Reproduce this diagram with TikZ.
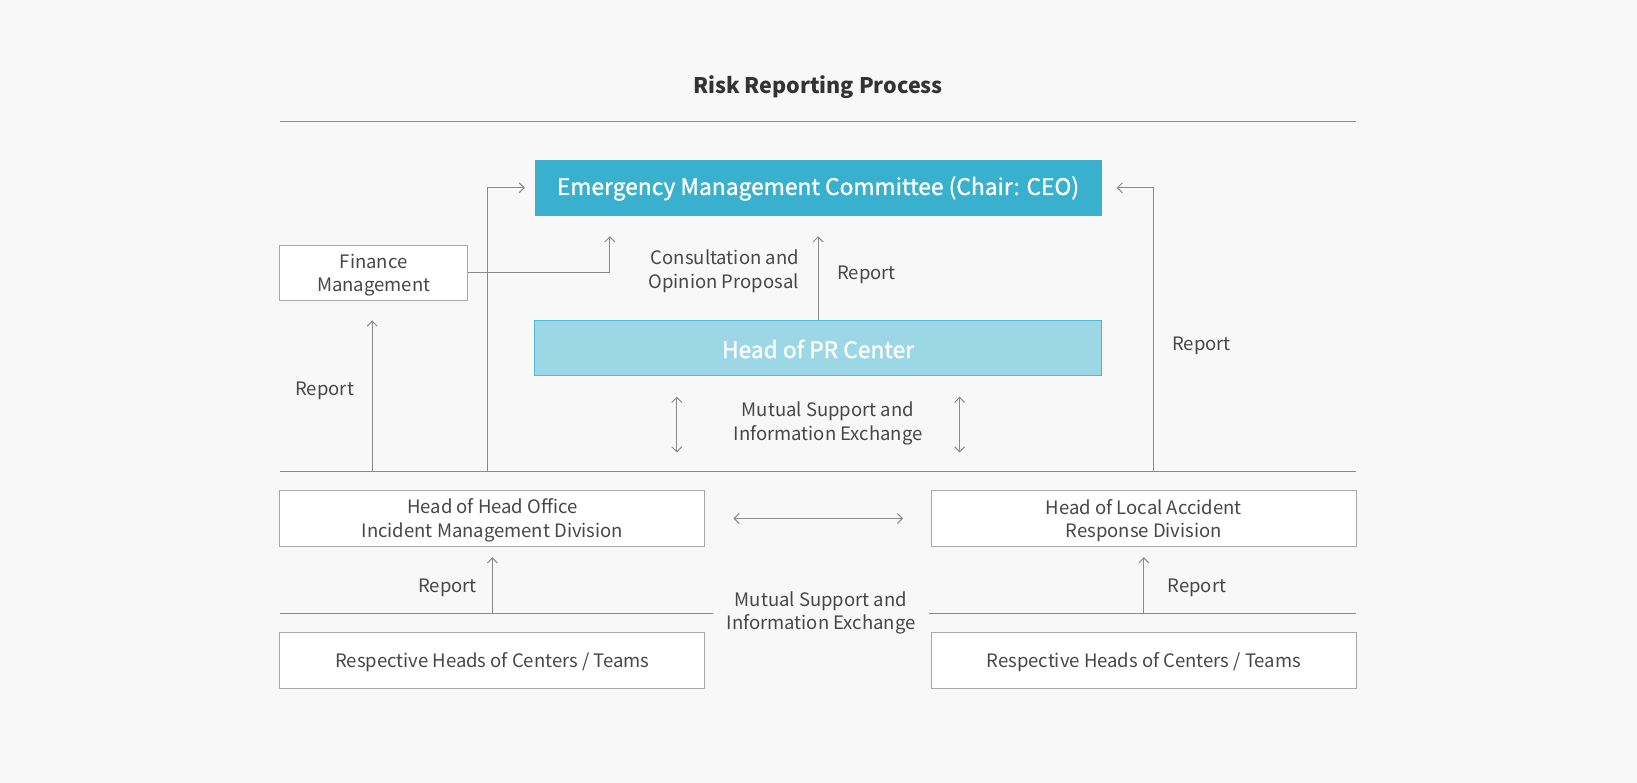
\documentclass[tikz,border=0pt]{standalone}
\usepackage{fontspec}
\setmainfont{Noto Sans CJK KR}
\newfontfamily\medfont{Noto Sans CJK KR}[FakeBold=1.2]
\usetikzlibrary{arrows.meta,calc}
\definecolor{bg}{HTML}{F8F8F8}
\definecolor{txt}{HTML}{474747}
\definecolor{ttl}{HTML}{333333}
\definecolor{lin}{HTML}{8A8A8A}
\definecolor{boxc}{HTML}{A8A8A8}
\definecolor{emcfill}{HTML}{38B0CE}
\definecolor{prfill}{HTML}{9BD7E4}
\definecolor{prline}{HTML}{4CBAD6}
\tikzset{
  lbl/.style={font=\fontsize{18.5}{23.5}\selectfont, text=txt, align=center, inner sep=0pt},
  wbox/.style={draw=boxc, fill=white, line width=1pt, inner sep=0pt, minimum height=55.5pt},
  arr/.style={draw=lin, line width=1pt, -{Straight Barb[length=5pt,width=10pt,line width=1pt]}},
  darr/.style={draw=lin, line width=1pt, {Straight Barb[length=5pt,width=10pt,line width=1pt]}-{Straight Barb[length=5pt,width=10pt,line width=1pt]}},
  rule/.style={draw=lin, line width=1pt}
}
\begin{document}
\begin{tikzpicture}[x=1pt,y=-1pt]
\fill[bg] (0,0) rectangle (1637,783);
\useasboundingbox (0,0) rectangle (1637,783);

% title
\node[font=\fontsize{21.5}{26}\selectfont\bfseries, text=ttl, inner sep=0pt] (title) at (818,87.5) {Risk Reporting Process};
\coordinate (t1) at (279.8,122);
\coordinate (t2) at (1356,122);
\draw[rule] (t1) -- (t2);

% main boxes
\node[fill=emcfill, minimum width=567pt, minimum height=56.5pt, inner sep=0pt] (emc) at (818,187.8) {};
\node[text=white, font=\medfont\fontsize{22.8}{28}\selectfont, inner sep=0pt] (emct) at (818,188.5) {Emergency Management Committee (Chair: CEO)};
\node[fill=prfill, draw=prline, line width=1pt, minimum width=567pt, minimum height=55.5pt, inner sep=0pt] (pr) at (818,348.2) {};
\node[text=white, font=\medfont\fontsize{22.8}{28}\selectfont, inner sep=0pt] (prt) at (818,349) {Head of PR Center};
\node[wbox, minimum width=188pt] (fin) at (373.75,273) {};
\node[lbl] (fint) at (373.75,275) {Finance\\Management};

% mid line
\coordinate (m1) at (279.8,471);
\coordinate (m2) at (1356,471);
\draw[rule] (m1) -- (m2);

% labels top
\node[lbl, align=right, anchor=east] (consult) at (799,271.5) {Consultation and\\Opinion Proposal};
\node[lbl, anchor=west] (rep1) at (837,274.5) {Report};
\node[lbl] (rep2) at (324.7,390.5) {Report};
\node[lbl] (rep3) at (1201.5,346) {Report};
\node[lbl] (mut1) at (828,423.5) {Mutual Support and\\Information Exchange};

% arrows top
\draw[arr] (pr.north) -- ($(emc.south)+(0,20)$);
\draw[arr] (fin.east) -| ($(emc.south west)+(75.5,20)$);
\coordinate (lv) at (487.6,471);
\draw[arr] (lv) |- ($(emc.west)+(-9.5,0)$);
\coordinate (rv) at (1153,471);
\draw[arr] (rv) |- ($(emc.east)+(15,0)$);
\coordinate (fv) at (372.2,471);
\draw[arr] (fv) -- (372.2,320.5);
\coordinate (d1a) at (676.8,396.7);
\coordinate (d1b) at (676.8,452.5);
\coordinate (d2a) at (959.6,396.7);
\coordinate (d2b) at (959.6,452.5);
\draw[darr] (d1a) -- (d1b);
\draw[darr] (d2a) -- (d2b);

% lower boxes
\node[wbox, minimum width=425pt] (hho) at (492.4,518.5) {};
\node[lbl] (hhot) at (492.4,520.5) {Head of Head Office\\Incident Management Division};
\node[wbox, minimum width=424.5pt] (hla) at (1143.75,518.5) {};
\node[lbl] (hlat) at (1143.75,520.5) {Head of Local Accident\\Response Division};
\node[wbox, minimum width=425pt] (rl) at (492.4,660.5) {};
\node[lbl] (rlt) at (492.4,662.5) {Respective Heads of Centers / Teams};
\node[wbox, minimum width=424.5pt] (rr) at (1143.75,660.5) {};
\node[lbl] (rrt) at (1143.75,662.5) {Respective Heads of Centers / Teams};

\draw[darr] ($(hho.east)+(28,0)$) -- ($(hla.west)+(-28,0)$);

% bottom lines
\coordinate (b1) at (279.8,613.3);
\coordinate (b2) at (713.4,613.3);
\coordinate (b3) at (929.4,613.3);
\coordinate (b4) at (1356,613.3);
\draw[rule] (b1) -- (b2);
\draw[rule] (b3) -- (b4);
\draw[arr] (hho.south |- b1) -- ($(hho.south)+(0,10.5)$);
\draw[arr] (hla.south |- b3) -- ($(hla.south)+(0,10.5)$);
\node[lbl] (rep4) at (447.5,588) {Report};
\node[lbl] (rep5) at (1197,588) {Report};
\node[lbl] (mut2) at (821,613) {Mutual Support and\\Information Exchange};
\end{tikzpicture}
\end{document}
